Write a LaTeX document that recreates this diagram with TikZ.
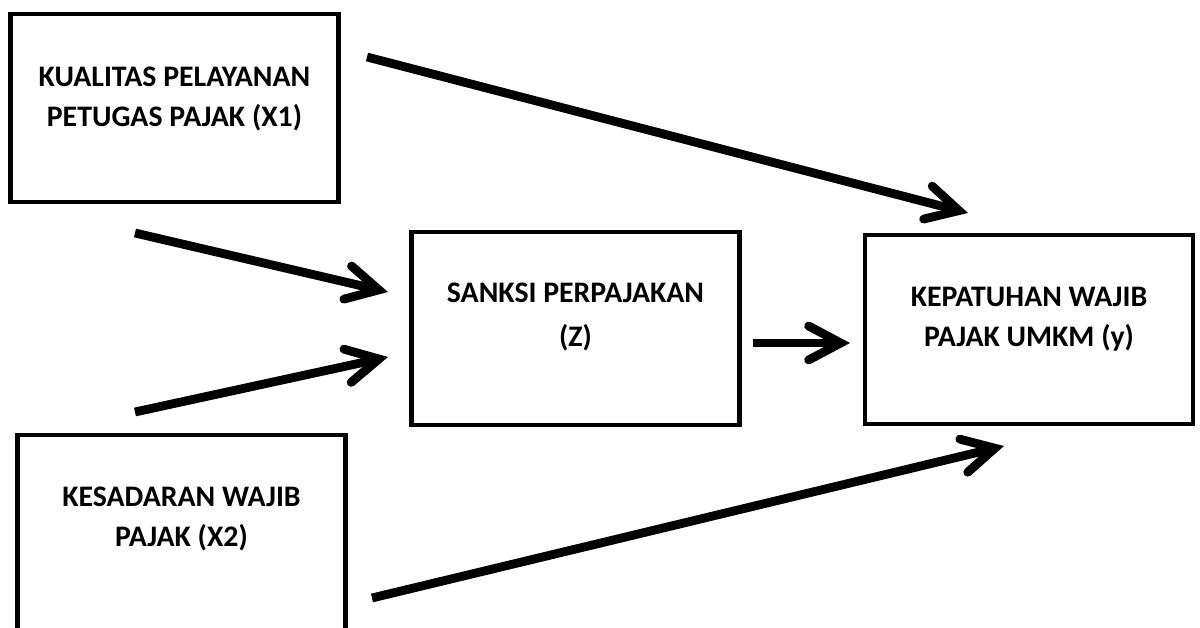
\documentclass[tikz,border=0pt]{standalone}
\usepackage{fontspec}
\setmainfont{Carlito}
\usetikzlibrary{arrows.meta,positioning}

\tikzset{
  box/.style={draw, line width=0.12cm, minimum width=8.2cm, inner sep=0pt},
  lbl/.style={font=\bfseries\fontsize{21.2}{28.45}\selectfont, align=center, inner sep=0pt, anchor=north},
  arr/.style={line width=0.22cm, -{Straight Barb[length=0.8cm, width=0.85cm, line cap=round, line join=miter]}}
}

\begin{document}
\begin{tikzpicture}[x=0.025cm, y=-0.025cm]
    \useasboundingbox (0,0) rectangle (1200,628);

    % the four boxes
    \node[box, minimum height=4.7cm] (x1) at (174.5,108) {};
    \node[box, minimum height=4.825cm] (z) at (575.5,328.5) {};
    \node[box, minimum height=4.725cm] (y) at (1029,329.5) {};
    \node[box, minimum height=5cm] (x2) at (181.5,535) {};

    % texts in the boxes
    \node[lbl] (x1text) at (174.5,67) {KUALITAS PELAYANAN\\PETUGAS PAJAK (X1)};
    \node[lbl] (ztext) at (575.5,283) {SANKSI PERPAJAKAN\\[0.1cm](Z)};
    \node[lbl] (ytext) at (1029,287) {KEPATUHAN WAJIB\\PAJAK UMKM (y)};
    \node[lbl] (x2text) at (181.5,487) {KESADARAN WAJIB\\PAJAK (X2)};

    % free ends of the arrows
    \coordinate (x1y-s) at (367,57);
    \coordinate (x1y-e) at (968,213);
    \coordinate (x1z-s) at (135,233);
    \coordinate (x1z-e) at (388,292);
    \coordinate (x2z-s) at (135,412);
    \coordinate (x2z-e) at (388,357);
    \coordinate (zy-s) at (753,343);
    \coordinate (zy-e) at (850,343);
    \coordinate (x2y-s) at (372,598);
    \coordinate (x2y-e) at (1004,446);

    % arrows
    \draw[arr] (x1y-s) -- (x1y-e);
    \draw[arr] (x1z-s) -- (x1z-e);
    \draw[arr] (x2z-s) -- (x2z-e);
    \draw[arr] (zy-s) -- (zy-e);
    \draw[arr] (x2y-s) -- (x2y-e);
\end{tikzpicture}
\end{document}
